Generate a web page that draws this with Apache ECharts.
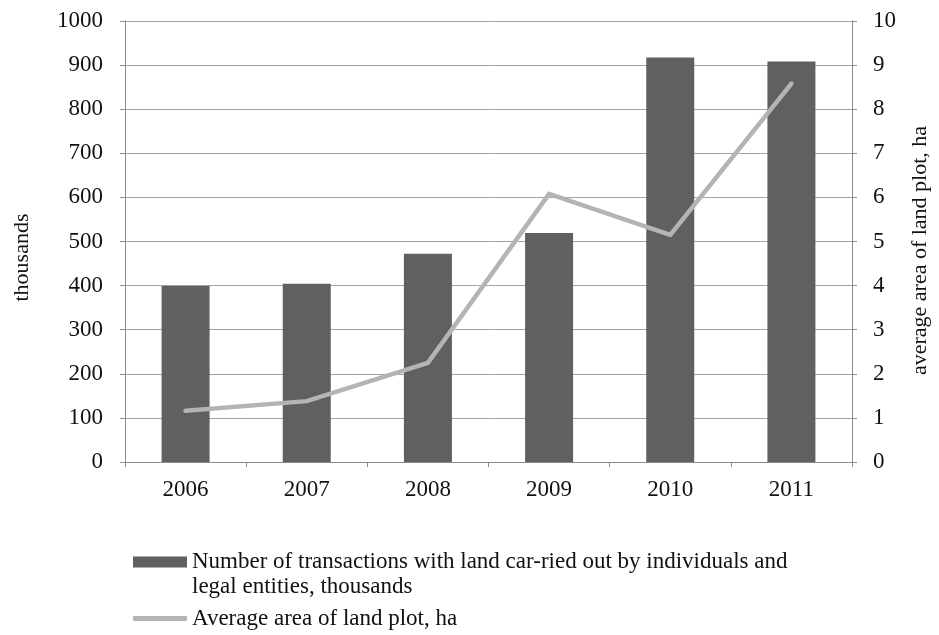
<!DOCTYPE html>
<html>
<head>
<meta charset="utf-8">
<script src="https://cdn.jsdelivr.net/npm/echarts@6/dist/echarts.min.js"></script>
<style>
  html, body { margin: 0; padding: 0; background: #fff; }
  #chart { width: 939px; height: 635px; }
</style>
</head>
<body>
<div id="chart"></div>
<script>
// Years on the category axis
const years = ['2006', '2007', '2008', '2009', '2010', '2011'];
// Number of land transactions, thousands (left axis)
const transactions = [399, 404, 472, 519, 917, 908];
// Average area of a land plot, ha (right axis)
const avgArea = [1.16, 1.38, 2.25, 6.08, 5.15, 8.58];

const barName = 'Number of transactions with land car-ried out by individuals and\nlegal entities, thousands';
const lineName = 'Average area of land plot, ha';

const FONT = '"Liberation Serif", "Times New Roman", serif';
const TEXT = '#111';
const AXIS = '#8c8c8c';
const FS = 23;      // tick labels
const FS_NAME = 22; // axis titles
const FS_LEG = 23;  // legend

const chart = echarts.init(document.getElementById('chart'), null, { renderer: 'canvas' });

chart.setOption({
  animation: false,
  backgroundColor: '#fff',
  textStyle: { fontFamily: FONT },
  grid: { left: 125, right: 84, top: 21, bottom: 173, containLabel: false },
  legend: [
    {
      data: [barName],
      left: 133, top: 524.5, padding: 0,
      icon: 'rect', itemWidth: 54, itemHeight: 11,
      // leading blank line keeps the swatch level with the first text line
      formatter: function (name) { return ' \n' + name; },
      textStyle: { fontFamily: FONT, fontSize: FS_LEG, color: TEXT, lineHeight: 25 }
    },
    {
      data: [lineName],
      left: 133, top: 606, padding: 0,
      icon: 'roundRect', itemWidth: 54, itemHeight: 5,
      itemStyle: { color: '#b4b4b4' },
      textStyle: { fontFamily: FONT, fontSize: FS_LEG, color: TEXT, lineHeight: 25 }
    }
  ],
  xAxis: {
    type: 'category',
    data: years,
    boundaryGap: true,
    axisLine: { lineStyle: { color: AXIS, width: 1 } },
    axisTick: { show: true, length: 5, lineStyle: { color: AXIS } },
    axisLabel: { fontFamily: FONT, fontSize: FS, color: TEXT, margin: 16 },
    splitLine: { show: false }
  },
  yAxis: [
    {
      type: 'value',
      min: 0, max: 1000, interval: 100,
      name: 'thousands',
      nameLocation: 'middle',
      nameGap: 92,
      nameRotate: 90,
      nameTextStyle: { fontFamily: FONT, fontSize: FS_NAME, color: TEXT, padding: [0, 32, 0, 0] },
      axisLine: { show: true, lineStyle: { color: AXIS, width: 1 } },
      axisTick: { show: true, length: 5, lineStyle: { color: AXIS } },
      axisLabel: { fontFamily: FONT, fontSize: FS, color: TEXT, margin: 22, formatter: function (v) { return String(v); } },
      splitLine: { show: true, lineStyle: { color: '#a3a3a3', width: 1 } }
    },
    {
      type: 'value',
      min: 0, max: 10, interval: 1,
      position: 'right',
      name: 'average area of land plot, ha',
      nameLocation: 'middle',
      nameGap: 57,
      nameRotate: 90,
      nameTextStyle: { fontFamily: FONT, fontSize: FS_NAME, color: TEXT, padding: [0, 18, 0, 0] },
      axisLine: { show: true, lineStyle: { color: AXIS, width: 1 } },
      axisTick: { show: true, length: 5, lineStyle: { color: AXIS } },
      axisLabel: { fontFamily: FONT, fontSize: FS, color: TEXT, margin: 21 },
      splitLine: { show: false }
    }
  ],
  series: [
    {
      name: barName,
      type: 'bar',
      yAxisIndex: 0,
      data: transactions,
      barWidth: 48,
      itemStyle: { color: '#606060' }
    },
    {
      name: lineName,
      type: 'line',
      yAxisIndex: 1,
      data: avgArea,
      symbol: 'none',
      lineStyle: { color: '#b4b4b4', width: 4.5, cap: 'round', join: 'miter' },
      itemStyle: { color: '#b4b4b4' },
      z: 3
    }
  ]
});
</script>
</body>
</html>
